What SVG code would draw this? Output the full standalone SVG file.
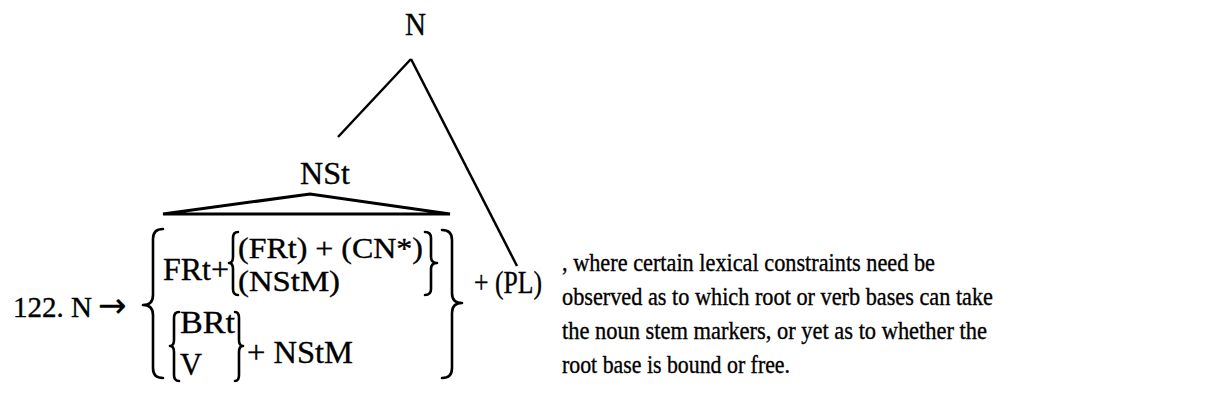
<svg xmlns="http://www.w3.org/2000/svg" width="1223" height="408" viewBox="0 0 1223 408">
<style>
text{font-family:"Liberation Serif","Times New Roman",serif;fill:#000;stroke:#000;stroke-width:0.35}
.f{font-size:32px}
.s{font-size:29px}
.p{font-size:25px}
.ar{font-family:"DejaVu Sans",sans-serif;stroke-width:0.2}
.ln{stroke:#000;stroke-width:2.5;fill:none;stroke-linecap:butt}
.br{stroke:#000;stroke-width:2.6;fill:none;stroke-linejoin:round;stroke-linecap:round}
</style>
<rect width="1223" height="408" fill="#fff"/>
<g id="connectors">
<line class="ln" x1="411" y1="59" x2="338" y2="137"/>
<line class="ln" x1="411" y1="59" x2="517" y2="266"/>
<polygon points="163,214 310,194 450,214" fill="none" stroke="#000" stroke-width="3"/>
</g>
<g id="node-N">
<text class="f" x="405" y="35" textLength="21" lengthAdjust="spacingAndGlyphs">N</text>
</g>
<g id="node-NSt">
<text class="f" x="300" y="184" textLength="50" lengthAdjust="spacingAndGlyphs">NSt</text>
</g>
<g id="rule">
<text x="13" y="317" font-size="29"><tspan>122. N </tspan><tspan class="ar" x="98" font-size="34">→</tspan></text>
<path class="br" d="M163,229 Q153,229 153,239 L153,295 Q153,305 143,305 Q153,305 153,315 L153,368 Q153,378 163,378"/>
<path class="br" d="M442,230 Q452,230 452,240 L452,293 Q452,303 462,303 Q452,303 452,313 L452,368 Q452,378 442,378"/>
<text class="f" x="163" y="280" textLength="66" lengthAdjust="spacingAndGlyphs">FRt+</text>
<path class="br" d="M238,232 Q233,232 233,238 L233,257 Q233,263 229,263 Q233,263 233,269 L233,289 Q233,295 238,295"/>
<text class="s" x="238" y="258" textLength="185" lengthAdjust="spacingAndGlyphs">(FRt) + (CN*)</text>
<text class="s" x="238" y="291" textLength="102" lengthAdjust="spacingAndGlyphs">(NStM)</text>
<path class="br" d="M425,232 Q431,232 431,238 L431,257 Q431,263 437,263 Q431,263 431,269 L431,289 Q431,295 425,295"/>
<path class="br" d="M179,312 Q174,312 174,318 L174,340 Q174,346 170,346 Q174,346 174,352 L174,375 Q174,381 179,381"/>
<text class="f" x="180" y="333" textLength="55" lengthAdjust="spacingAndGlyphs">BRt</text>
<text class="f" x="180" y="375" textLength="22" lengthAdjust="spacingAndGlyphs">V</text>
<path class="br" d="M235,312 Q239,312 239,318 L239,340 Q239,346 243,346 Q239,346 239,352 L239,375 Q239,381 235,381"/>
<text class="f" x="247" y="363" textLength="106" lengthAdjust="spacingAndGlyphs">+ NStM</text>
<text class="f" x="474" y="293" textLength="68" lengthAdjust="spacingAndGlyphs">+ (PL)</text>
</g>
<g id="note">
<text class="p" x="562" y="271" textLength="373" lengthAdjust="spacingAndGlyphs">, where certain lexical constraints need be</text>
<text class="p" x="562" y="305" textLength="431" lengthAdjust="spacingAndGlyphs">observed as to which root or verb bases can take</text>
<text class="p" x="562" y="339" textLength="425" lengthAdjust="spacingAndGlyphs">the noun stem markers, or yet as to whether the</text>
<text class="p" x="562" y="373" textLength="228" lengthAdjust="spacingAndGlyphs">root base is bound or free.</text>
</g>
</svg>
